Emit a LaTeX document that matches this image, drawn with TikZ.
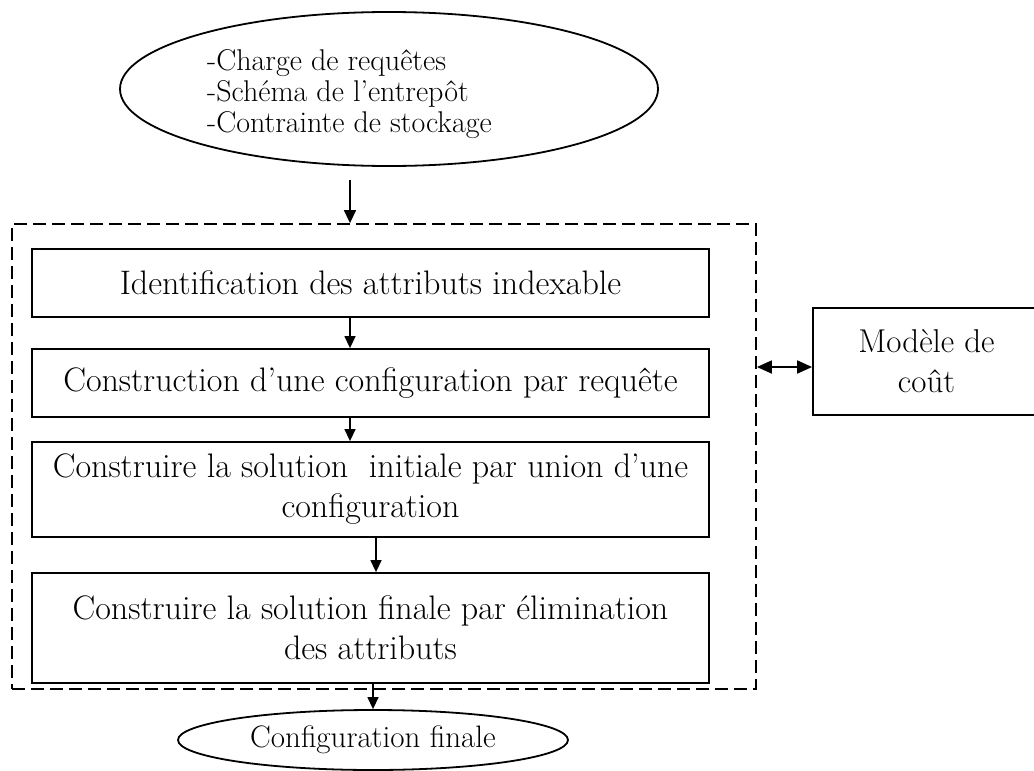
\documentclass[tikz,border=0pt]{standalone}
\usetikzlibrary{arrows.meta,shapes.geometric}
\begin{document}
\begin{tikzpicture}[x=1pt,y=-1pt,
  box/.style={draw, line width=1.8pt, rectangle, minimum width=677pt, inner sep=0pt,
    align=center, font=\fontsize{34}{40}\selectfont},
  oval/.style={draw, line width=1.8pt, ellipse, inner sep=0pt},
  frame/.style={draw, line width=1.8pt, dash pattern=on 13pt off 6pt, inner sep=0pt},
  link/.style={line width=1.4pt, -{Triangle[length=12pt,width=11pt]}},
  both/.style={line width=1.8pt, {Triangle[length=15pt,width=13pt]}-{Triangle[length=15pt,width=13pt]}}
]
\useasboundingbox (0,0) rectangle (1034,771);
\clip (0,0) rectangle (1034,771);

% inputs of the method
\node[oval, minimum width=538pt, minimum height=154pt] (inputs) at (389,89) {};
\node[anchor=west, align=left, inner sep=0pt, font=\fontsize{30}{31}\selectfont]
  (inputlist) at (207,94) {-Charge de requêtes\\-Schéma de l’entrepôt\\-Contrainte de stockage};

% selection process
\node[frame, minimum width=744pt, minimum height=465pt] (frame) at (384,456.5) {};
\node[box, minimum height=68pt] (b1) at (370.5,283) {Identification des attributs indexable};
\node[box, minimum height=68pt] (b2) at (370.5,383) {Construction d’une configuration par requête};
\node[box, minimum height=95pt] (b3) at (370.5,489.5) {Construire la solution\ \ initiale par union d’une\\configuration};
\node[box, minimum height=110pt] (b4) at (370.5,628) {Construire la solution finale par élimination\\des attributs};

% cost model
\node[draw, line width=1.8pt, minimum width=227pt, minimum height=107pt, inner sep=0pt,
  align=center, font=\fontsize{33}{40}\selectfont] (cost) at (926.5,361.5) {Modèle de\\coût};

% output
\node[oval, minimum width=390pt, minimum height=60pt, font=\fontsize{31}{32}\selectfont]
  (final) at (373,740) {Configuration finale};

% connectors
\coordinate (in) at (350,180);
\draw[link, line width=1.6pt, -{Triangle[length=13pt,width=12pt]}] (in) -- (in |- frame.north);
\draw[link] ([xshift=-20.5pt]b1.south) -- ([xshift=-20.5pt]b2.north);
\draw[link] ([xshift=-20.5pt]b2.south) -- ([xshift=-20.5pt]b3.north);
\draw[link] ([xshift=5.5pt]b3.south) -- ([xshift=5.5pt]b4.north);
\draw[link] (b4.south -| final.north) -- (final.north);
\draw[both] ([yshift=-5.5pt]cost.west -| frame.east) -- ([yshift=-5.5pt]cost.west);
\end{tikzpicture}
\end{document}
